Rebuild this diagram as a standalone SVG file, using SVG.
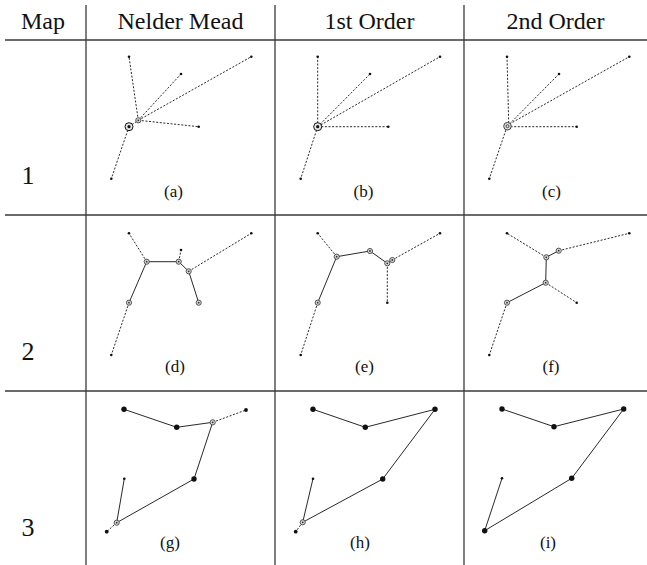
<svg xmlns="http://www.w3.org/2000/svg" xmlns:xlink="http://www.w3.org/1999/xlink" width="647" height="565" viewBox="0 0 647 565">
<style>
.bg{fill:#fff}
.grid{stroke:#3a3a3a;stroke-width:1.3;fill:none}
.hd{font-family:"Liberation Serif","Times New Roman",serif;font-size:24px;fill:#111;text-anchor:middle}
.rl{font-family:"Liberation Serif","Times New Roman",serif;font-size:26px;fill:#111;text-anchor:middle}
.lb{font-family:"Liberation Serif","Times New Roman",serif;font-size:17px;fill:#111;text-anchor:middle}
.dash{stroke:#111;stroke-width:0.9;stroke-dasharray:2 1.6;fill:none}
.solid{stroke:#111;stroke-width:0.9;fill:none}
</style>
<defs>
<circle id="dot" r="1.3" fill="#111"/>
<circle id="mdot" r="1.9" fill="#111"/>
<circle id="bdot" r="2.7" fill="#111"/>
<g id="ring"><circle r="2.6" fill="#d4d4d4" stroke="#333" stroke-width="0.8"/><circle r="0.9" fill="#333"/></g>
<g id="bring"><circle r="4" fill="#e6e6e6" stroke="#111" stroke-width="1"/><circle r="1.6" fill="#111"/></g>
<g id="gring"><circle r="3.8" fill="#e0e0e0" stroke="#444" stroke-width="1"/><circle r="1.5" fill="none" stroke="#222" stroke-width="0.8"/></g>
</defs>
<rect class="bg" x="0" y="0" width="647" height="565"/>

<g id="table">
<line class="grid" x1="5" y1="40" x2="647" y2="40"/>
<line class="grid" x1="5" y1="215" x2="647" y2="215"/>
<line class="grid" x1="5" y1="391" x2="647" y2="391"/>
<line class="grid" x1="86" y1="5" x2="86" y2="565"/>
<line class="grid" x1="275" y1="5" x2="275" y2="565"/>
<line class="grid" x1="464" y1="5" x2="464" y2="565"/>
</g>

<g id="headers">
<text class="hd" x="43" y="29">Map</text>
<text class="hd" x="180.5" y="29">Nelder Mead</text>
<text class="hd" x="369.5" y="29">1st Order</text>
<text class="hd" x="555.5" y="29">2nd Order</text>
<text class="rl" x="28" y="184">1</text>
<text class="rl" x="28" y="360">2</text>
<text class="rl" x="28" y="536">3</text>
</g>

<g id="labels">
<text class="lb" x="173.5" y="197">(a)</text>
<text class="lb" x="363.5" y="197">(b)</text>
<text class="lb" x="551.5" y="197">(c)</text>
<text class="lb" x="175" y="372">(d)</text>
<text class="lb" x="364.5" y="372">(e)</text>
<text class="lb" x="551" y="372">(f)</text>
<text class="lb" x="170" y="548">(g)</text>
<text class="lb" x="360" y="548">(h)</text>
<text class="lb" x="548" y="548">(i)</text>
</g>

<g id="connectors">
<!-- (a) -->
<line class="dash" x1="138.3" y1="120.3" x2="129" y2="56.7"/>
<line class="dash" x1="138.3" y1="120.3" x2="181" y2="74"/>
<line class="dash" x1="138.3" y1="120.3" x2="251.3" y2="56.7"/>
<line class="dash" x1="138.3" y1="120.3" x2="198.7" y2="126.7"/>
<line class="dash" x1="129" y1="126.7" x2="111.3" y2="178.7"/>
<line class="dash" x1="129" y1="126.7" x2="138.3" y2="120.3"/>
<!-- (b) -->
<line class="dash" x1="317.7" y1="126.7" x2="317.7" y2="56.7"/>
<line class="dash" x1="317.7" y1="126.7" x2="370" y2="74"/>
<line class="dash" x1="317.7" y1="126.7" x2="440" y2="56.7"/>
<line class="dash" x1="317.7" y1="126.7" x2="388.3" y2="126.7"/>
<line class="dash" x1="317.7" y1="126.7" x2="300.7" y2="178.7"/>
<!-- (c) -->
<line class="dash" x1="508.7" y1="123" x2="507" y2="56.7"/>
<line class="dash" x1="509.5" y1="124" x2="559" y2="74"/>
<line class="dash" x1="509.5" y1="124" x2="629.3" y2="56.7"/>
<line class="dash" x1="507" y1="126.7" x2="576.7" y2="126.7"/>
<line class="dash" x1="507" y1="126.7" x2="489.3" y2="178.7"/>
<!-- (d) -->
<line class="dash" x1="146.7" y1="261.7" x2="129" y2="233.3"/>
<line class="solid" x1="146.7" y1="261.7" x2="178.7" y2="261.7"/>
<line class="dash" x1="178.7" y1="261.7" x2="181" y2="250"/>
<line class="solid" x1="178.7" y1="261.7" x2="188.7" y2="271.3"/>
<line class="dash" x1="188.7" y1="271.3" x2="251.3" y2="233.3"/>
<line class="solid" x1="188.7" y1="271.3" x2="198.7" y2="302.7"/>
<line class="solid" x1="146.7" y1="261.7" x2="129" y2="302.7"/>
<line class="dash" x1="129" y1="302.7" x2="111.3" y2="355"/>
<!-- (e) -->
<line class="dash" x1="336.7" y1="256.7" x2="317.7" y2="233.3"/>
<line class="solid" x1="336.7" y1="256.7" x2="370" y2="251"/>
<line class="solid" x1="370" y1="251" x2="387.3" y2="263.3"/>
<line class="dash" x1="387.3" y1="263.3" x2="387.3" y2="302.7"/>
<line class="solid" x1="387.3" y1="263.3" x2="392.3" y2="260"/>
<line class="dash" x1="392.3" y1="260" x2="440" y2="233.3"/>
<line class="solid" x1="336.7" y1="256.7" x2="317.7" y2="302.7"/>
<line class="dash" x1="317.7" y1="302.7" x2="300.7" y2="355"/>
<!-- (f) -->
<line class="dash" x1="546.3" y1="257.3" x2="507" y2="233.3"/>
<line class="solid" x1="546.3" y1="257.3" x2="558.7" y2="250.7"/>
<line class="dash" x1="558.7" y1="250.7" x2="629.3" y2="233.3"/>
<line class="solid" x1="546.3" y1="257.3" x2="545.7" y2="282.7"/>
<line class="dash" x1="545.7" y1="282.7" x2="576.7" y2="302.7"/>
<line class="solid" x1="545.7" y1="282.7" x2="507" y2="302.7"/>
<line class="dash" x1="507" y1="302.7" x2="489.3" y2="355"/>
<!-- (g) -->
<line class="solid" x1="124" y1="409.3" x2="176.7" y2="427.3"/>
<line class="solid" x1="176.7" y1="427.3" x2="212.7" y2="422.3"/>
<line class="dash" x1="212.7" y1="422.3" x2="246" y2="410"/>
<line class="solid" x1="212.7" y1="422.3" x2="194" y2="479"/>
<line class="solid" x1="194" y1="479" x2="116.7" y2="522.7"/>
<line class="solid" x1="116.7" y1="522.7" x2="124.3" y2="478.7"/>
<line class="dash" x1="116.7" y1="522.7" x2="106.7" y2="531.7"/>
<!-- (h) -->
<line class="solid" x1="313" y1="409.3" x2="365.3" y2="427.3"/>
<line class="solid" x1="365.3" y1="427.3" x2="435" y2="409.3"/>
<line class="solid" x1="435" y1="409.3" x2="382.7" y2="479"/>
<line class="solid" x1="382.7" y1="479" x2="302.7" y2="522.3"/>
<line class="solid" x1="302.7" y1="522.3" x2="313" y2="478.7"/>
<line class="dash" x1="302.7" y1="522.3" x2="295.7" y2="531.7"/>
<!-- (i) -->
<line class="solid" x1="502" y1="409" x2="554" y2="426.7"/>
<line class="solid" x1="554" y1="426.7" x2="623.7" y2="409"/>
<line class="solid" x1="623.7" y1="409" x2="571.7" y2="478.3"/>
<line class="solid" x1="571.7" y1="478.3" x2="484.7" y2="530.7"/>
<line class="solid" x1="484.7" y1="530.7" x2="502" y2="478.3"/>
</g>

<g id="panel-a">
<g id="a-A"><use xlink:href="#dot" x="129" y="56.7"/></g>
<g id="a-B"><use xlink:href="#dot" x="181" y="74"/></g>
<g id="a-C"><use xlink:href="#dot" x="251.3" y="56.7"/></g>
<g id="a-D"><use xlink:href="#dot" x="198.7" y="126.7"/></g>
<g id="a-E"><use xlink:href="#dot" x="111.3" y="178.7"/></g>
<g id="a-S"><use xlink:href="#ring" x="138.3" y="120.3"/></g>
<g id="a-R"><use xlink:href="#bring" x="129" y="126.7"/></g>
</g>
<g id="panel-b">
<g id="b-A"><use xlink:href="#dot" x="317.7" y="56.7"/></g>
<g id="b-B"><use xlink:href="#dot" x="370" y="74"/></g>
<g id="b-C"><use xlink:href="#dot" x="440" y="56.7"/></g>
<g id="b-D"><use xlink:href="#dot" x="388.3" y="126.7"/></g>
<g id="b-E"><use xlink:href="#dot" x="300.7" y="178.7"/></g>
<g id="b-R"><use xlink:href="#bring" x="317.7" y="126.7"/></g>
</g>
<g id="panel-c">
<g id="c-A"><use xlink:href="#dot" x="507" y="56.7"/></g>
<g id="c-B"><use xlink:href="#dot" x="559" y="74"/></g>
<g id="c-C"><use xlink:href="#dot" x="629.3" y="56.7"/></g>
<g id="c-D"><use xlink:href="#dot" x="576.7" y="126.7"/></g>
<g id="c-E"><use xlink:href="#dot" x="489.3" y="178.7"/></g>
<g id="c-R"><use xlink:href="#gring" x="507.5" y="126.2"/></g>
</g>
<g id="panel-d">
<g id="d-A"><use xlink:href="#dot" x="129" y="233.3"/></g>
<g id="d-B"><use xlink:href="#dot" x="181" y="250"/></g>
<g id="d-C"><use xlink:href="#dot" x="251.3" y="233.3"/></g>
<g id="d-E"><use xlink:href="#dot" x="111.3" y="355"/></g>
<g id="d-S1"><use xlink:href="#ring" x="146.7" y="261.7"/></g>
<g id="d-S2"><use xlink:href="#ring" x="178.7" y="261.7"/></g>
<g id="d-S3"><use xlink:href="#ring" x="188.7" y="271.3"/></g>
<g id="d-S4"><use xlink:href="#ring" x="129" y="302.7"/></g>
<g id="d-D"><use xlink:href="#ring" x="198.7" y="302.7"/></g>
</g>
<g id="panel-e">
<g id="e-A"><use xlink:href="#dot" x="317.7" y="233.3"/></g>
<g id="e-C"><use xlink:href="#dot" x="440" y="233.3"/></g>
<g id="e-D"><use xlink:href="#dot" x="387.3" y="302.7"/></g>
<g id="e-E"><use xlink:href="#dot" x="300.7" y="355"/></g>
<g id="e-S1"><use xlink:href="#ring" x="336.7" y="256.7"/></g>
<g id="e-S2"><use xlink:href="#ring" x="370" y="251"/></g>
<g id="e-S3"><use xlink:href="#ring" x="387.3" y="263.3"/></g>
<g id="e-S3b"><use xlink:href="#ring" x="392.3" y="260"/></g>
<g id="e-S4"><use xlink:href="#ring" x="317.7" y="302.7"/></g>
</g>
<g id="panel-f">
<g id="f-A"><use xlink:href="#dot" x="507" y="233.3"/></g>
<g id="f-C"><use xlink:href="#dot" x="629.3" y="233.3"/></g>
<g id="f-D"><use xlink:href="#dot" x="576.7" y="302.7"/></g>
<g id="f-E"><use xlink:href="#dot" x="489.3" y="355"/></g>
<g id="f-SB"><use xlink:href="#ring" x="558.7" y="250.7"/></g>
<g id="f-S1"><use xlink:href="#ring" x="546.3" y="257.3"/></g>
<g id="f-S2"><use xlink:href="#ring" x="545.7" y="282.7"/></g>
<g id="f-S3"><use xlink:href="#ring" x="507" y="302.7"/></g>
</g>
<g id="panel-g">
<g id="g-P1"><use xlink:href="#bdot" x="124" y="409.3"/></g>
<g id="g-P2"><use xlink:href="#bdot" x="176.7" y="427.3"/></g>
<g id="g-P3"><use xlink:href="#ring" x="212.7" y="422.3"/></g>
<g id="g-P4"><use xlink:href="#mdot" x="246" y="410"/></g>
<g id="g-P5"><use xlink:href="#bdot" x="194" y="479"/></g>
<g id="g-P6"><use xlink:href="#dot" x="124.3" y="478.7"/></g>
<g id="g-P7"><use xlink:href="#ring" x="116.7" y="522.7"/></g>
<g id="g-P8"><use xlink:href="#mdot" x="106.7" y="531.7"/></g>
</g>
<g id="panel-h">
<g id="h-P1"><use xlink:href="#bdot" x="313" y="409.3"/></g>
<g id="h-P2"><use xlink:href="#bdot" x="365.3" y="427.3"/></g>
<g id="h-P4"><use xlink:href="#bdot" x="435" y="409.3"/></g>
<g id="h-P5"><use xlink:href="#bdot" x="382.7" y="479"/></g>
<g id="h-P6"><use xlink:href="#dot" x="313" y="478.7"/></g>
<g id="h-P7"><use xlink:href="#ring" x="302.7" y="522.3"/></g>
<g id="h-P8"><use xlink:href="#mdot" x="295.7" y="531.7"/></g>
</g>
<g id="panel-i">
<g id="i-P1"><use xlink:href="#bdot" x="502" y="409"/></g>
<g id="i-P2"><use xlink:href="#bdot" x="554" y="426.7"/></g>
<g id="i-P4"><use xlink:href="#bdot" x="623.7" y="409"/></g>
<g id="i-P5"><use xlink:href="#bdot" x="571.7" y="478.3"/></g>
<g id="i-P6"><use xlink:href="#dot" x="502" y="478.3"/></g>
<g id="i-P8"><use xlink:href="#bdot" x="484.7" y="530.7"/></g>
</g>
</svg>
